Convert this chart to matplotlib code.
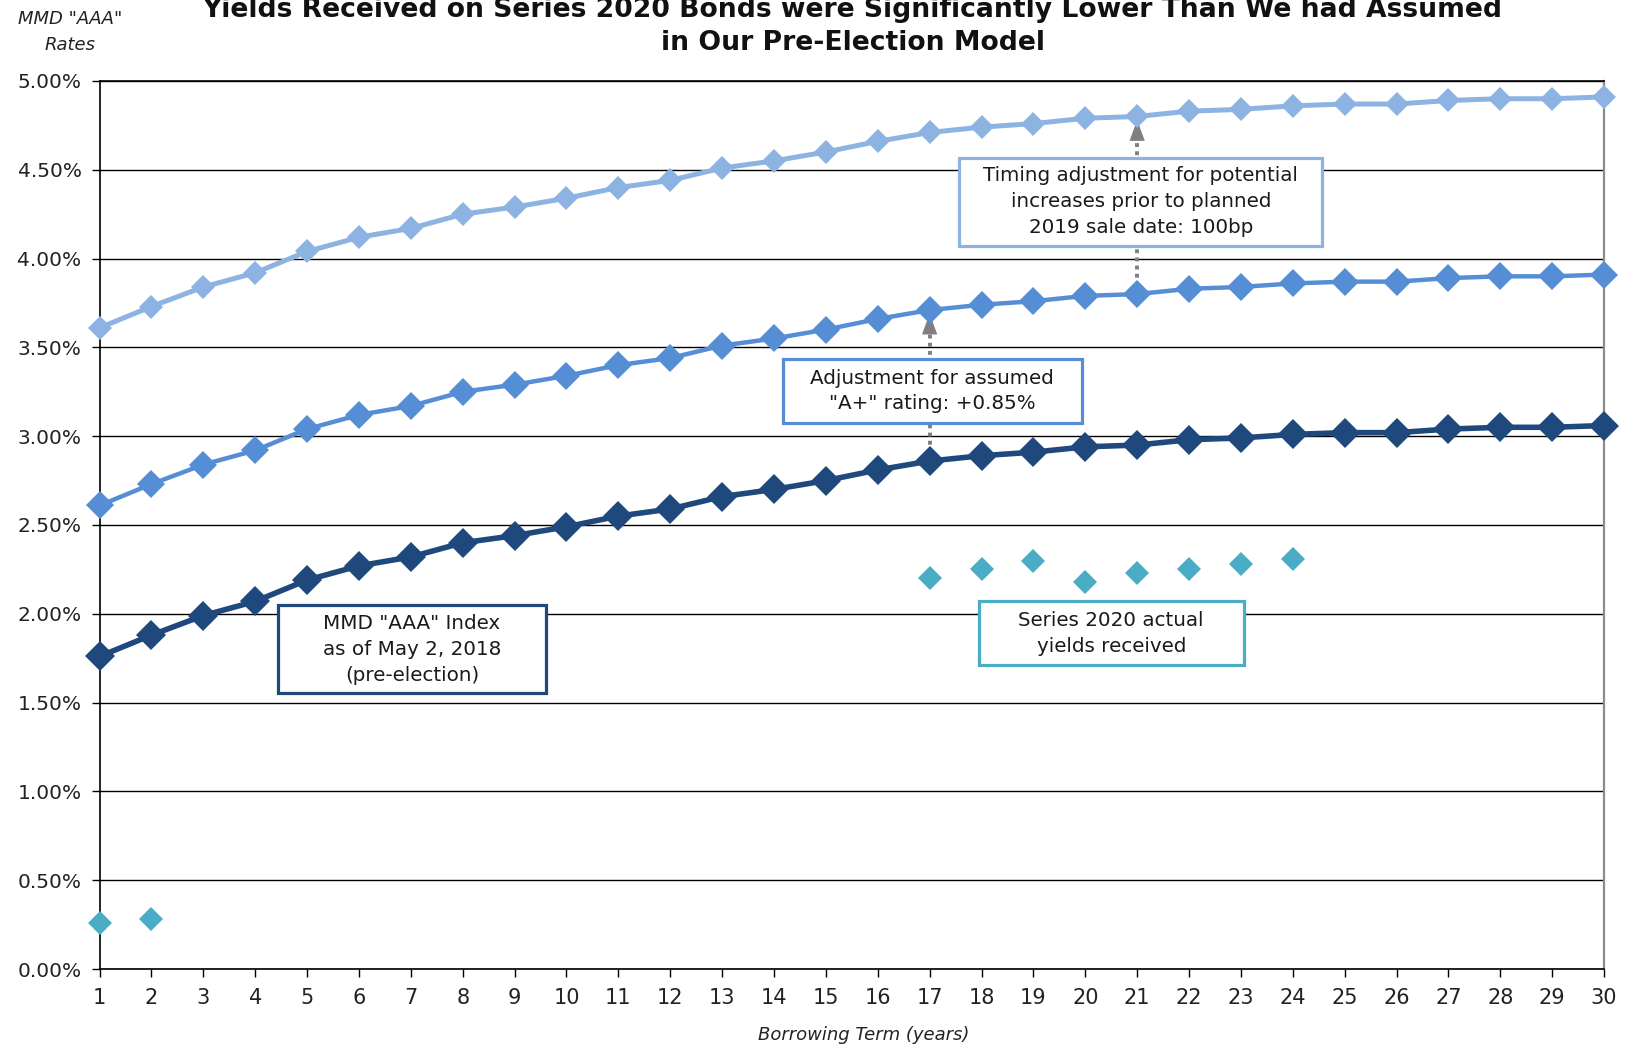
"""Yield curve comparison: MMD "AAA" index, model adjustments and actual Series 2020 yields."""

import matplotlib

matplotlib.use("Agg")
import matplotlib.pyplot as plt
from matplotlib.patches import Rectangle
from matplotlib.ticker import FuncFormatter, MultipleLocator

# Borrowing term in years
TERMS = list(range(1, 31))

# MMD "AAA" index as of May 2, 2018 (percent)
MMD_AAA = [1.76, 1.88, 1.99, 2.07, 2.19, 2.27, 2.32, 2.40, 2.44, 2.49,
           2.55, 2.59, 2.66, 2.70, 2.75, 2.81, 2.86, 2.89, 2.91, 2.94,
           2.95, 2.98, 2.99, 3.01, 3.02, 3.02, 3.04, 3.05, 3.05, 3.06]

# Index plus the assumed "A+" rating spread (+0.85%)
A_PLUS = [2.61, 2.73, 2.84, 2.92, 3.04, 3.12, 3.17, 3.25, 3.29, 3.34,
          3.40, 3.44, 3.51, 3.55, 3.60, 3.66, 3.71, 3.74, 3.76, 3.79,
          3.80, 3.83, 3.84, 3.86, 3.87, 3.87, 3.89, 3.90, 3.90, 3.91]

# Rating-adjusted curve plus 100bp timing adjustment
TIMING_ADJUSTED = [3.61, 3.73, 3.84, 3.92, 4.04, 4.12, 4.17, 4.25, 4.29, 4.34,
                   4.40, 4.44, 4.51, 4.55, 4.60, 4.66, 4.71, 4.74, 4.76, 4.79,
                   4.80, 4.83, 4.84, 4.86, 4.87, 4.87, 4.89, 4.90, 4.90, 4.91]

# Series 2020 yields actually received
ACTUAL_TERMS = [1, 2, 17, 18, 19, 20, 21, 22, 23, 24]
ACTUAL_YIELDS = [0.26, 0.28, 2.20, 2.25, 2.30, 2.18, 2.23, 2.25, 2.28, 2.31]

RATING_ARROW_TERM = 17
TIMING_ARROW_TERM = 21

NAVY = "#1F497D"
MID_BLUE = "#558ED5"
LIGHT_BLUE = "#8DB3E2"
TEAL = "#4BACC6"
ARROW_GREY = "#7F7F7F"
INK = "#1A1A1A"


def draw_callout(axis, center, size, text, colour):
    """White box with a coloured border and centred multi-line text."""
    x, y = center
    width, height = size
    axis.add_patch(
        Rectangle(
            (x - width / 2, y - height / 2),
            width,
            height,
            facecolor="white",
            edgecolor=colour,
            linewidth=2.3,
            zorder=4,
        )
    )
    axis.text(x, y, text, ha="center", va="center", fontsize=14.3,
              linespacing=1.45, color=INK, zorder=5)


def draw_spread_arrow(axis, term, low_curve, high_curve):
    """Dotted grey arrow between two curves at a given term."""
    index = TERMS.index(term)
    low = low_curve[index]
    high = high_curve[index] - 0.02
    axis.plot([term, term], [low, high - 0.1], color=ARROW_GREY,
              linestyle=(0, (1, 1.1)), linewidth=2.8, zorder=2)
    axis.annotate(
        "", xy=(term, high), xytext=(term, high - 0.13),
        arrowprops=dict(arrowstyle="-|>,head_length=1.5,head_width=0.55",
                        color=ARROW_GREY, linewidth=0, shrinkA=0, shrinkB=0),
        zorder=2,
    )


fig = plt.figure(figsize=(16.27, 10.46), dpi=100)
ax = fig.add_axes([0.0612, 0.0736, 0.9247, 0.849])

ax.plot(TERMS, TIMING_ADJUSTED, color=LIGHT_BLUE, linewidth=3.6, marker="D",
        markersize=12.5, markeredgewidth=0, clip_on=False, zorder=6)
ax.plot(TERMS, A_PLUS, color=MID_BLUE, linewidth=3.2, marker="D",
        markersize=14.5, markeredgewidth=0, clip_on=False, zorder=6)
ax.plot(TERMS, MMD_AAA, color=NAVY, linewidth=4.0, marker="D",
        markersize=15.5, markeredgewidth=0, clip_on=False, zorder=7)
ax.plot(ACTUAL_TERMS, ACTUAL_YIELDS, linestyle="none", color=TEAL, marker="D",
        markersize=12.5, markeredgewidth=0, clip_on=False, zorder=7)

draw_spread_arrow(ax, RATING_ARROW_TERM, MMD_AAA, A_PLUS)
draw_spread_arrow(ax, TIMING_ARROW_TERM, A_PLUS, TIMING_ADJUSTED)

draw_callout(ax, (7.02, 1.80), (5.17, 0.496),
             'MMD "AAA" Index\nas of May 2, 2018\n(pre-election)', NAVY)
draw_callout(ax, (17.05, 3.255), (5.76, 0.356),
             'Adjustment for assumed\n"A+" rating: +0.85%', MID_BLUE)
draw_callout(ax, (21.07, 4.32), (7.0, 0.496),
             "Timing adjustment for potential\nincreases prior to planned\n"
             "2019 sale date: 100bp", LIGHT_BLUE)
draw_callout(ax, (20.5, 1.89), (5.1, 0.362),
             "Series 2020 actual\nyields received", TEAL)

ax.set_xlim(1, 30)
ax.set_ylim(0, 5)
ax.set_xticks(TERMS)
ax.yaxis.set_major_locator(MultipleLocator(0.5))
ax.yaxis.set_major_formatter(FuncFormatter(lambda v, _: f"{v:.2f}%"))
ax.grid(axis="y", color="black", linewidth=1.0)
ax.set_axisbelow(True)
ax.tick_params(axis="both", direction="out", length=6, width=1.0, color="black")
ax.tick_params(axis="y", pad=7, labelsize=14.5, labelcolor="#222222")
ax.tick_params(axis="x", pad=8, labelsize=15, labelcolor="#222222")
for side in ("left", "bottom", "top"):
    ax.spines[side].set_color("black")
    ax.spines[side].set_linewidth(1.2)
ax.spines["right"].set_color("#8C8C8C")
ax.spines["right"].set_linewidth(1.6)

title_lines = [
    "Yields Received on Series 2020 Bonds were Significantly Lower Than We had Assumed",
    "in Our Pre-Election Model",
]
for line, y in zip(title_lines, (0.990, 0.9589)):
    fig.text(0.524, y, line, ha="center", va="center", fontsize=19.2,
             fontweight="bold", color="#111111")
fig.text(0.043, 0.9695, 'MMD "AAA"\nRates', ha="center", va="center",
         fontsize=13, style="italic", linespacing=1.6, color="#222222")
fig.text(0.531, 0.0105, "Borrowing Term (years)", ha="center", va="center",
         fontsize=13, style="italic", color="#222222")

fig.savefig("out.png", dpi=100, facecolor="white")
